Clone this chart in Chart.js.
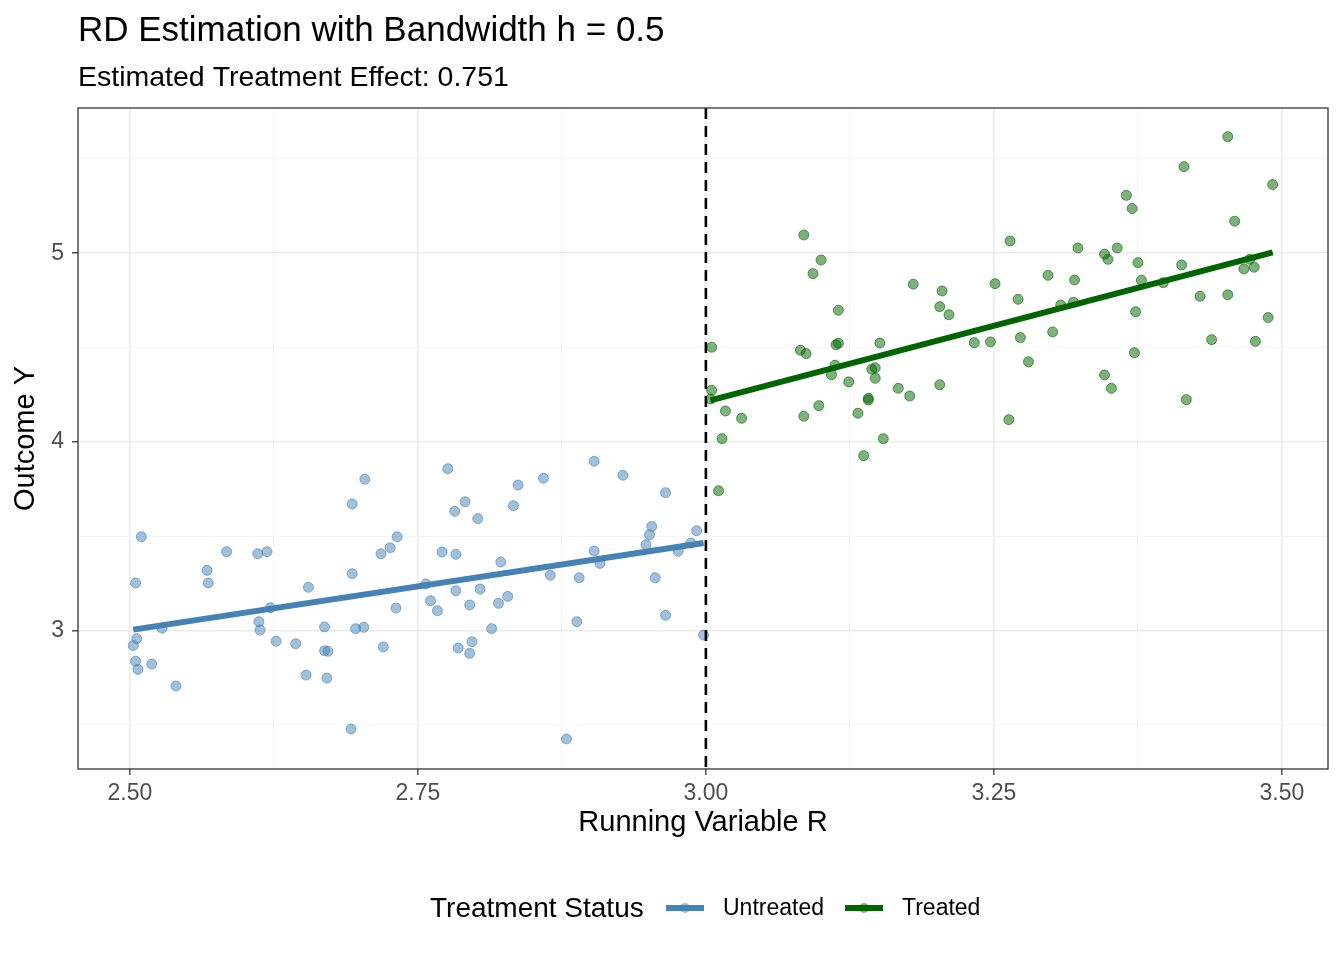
<!DOCTYPE html>
<html>
<head>
<meta charset="utf-8">
<script src="https://cdn.jsdelivr.net/npm/chart.js@4"></script>
<style>
  html, body { margin: 0; padding: 0; background: #fff; }
  #wrap { width: 1344px; height: 960px; }
</style>
</head>
<body>
<div id="wrap"><canvas id="rd"></canvas></div>
<script>
const TITLE = "RD Estimation with Bandwidth h = 0.5";
const SUBTITLE = "Estimated Treatment Effect: 0.751";
const CUTOFF = 3.0;

const untreatedR = [2.510, 2.505, 2.584, 2.567, 2.568, 2.611, 2.619, 2.622, 2.612, 2.613, 2.506, 2.503, 2.505, 2.507, 2.519, 2.528, 2.540, 2.627, 2.644, 2.655, 2.653, 2.671, 2.669, 2.672, 2.669, 2.693, 2.693, 2.704, 2.696, 2.703, 2.692, 2.720, 2.718, 2.726, 2.732, 2.731, 2.776, 2.782, 2.791, 2.802, 2.771, 2.783, 2.757, 2.761, 2.767, 2.783, 2.795, 2.804, 2.785, 2.797, 2.795, 2.814, 2.820, 2.828, 2.822, 2.833, 2.837, 2.859, 2.865, 2.879, 2.888, 2.890, 2.903, 2.903, 2.908, 2.928, 2.948, 2.951, 2.953, 2.956, 2.965, 2.965, 2.976, 2.987, 2.992, 2.998];
const untreatedY = [3.497, 3.252, 3.418, 3.319, 3.252, 3.407, 3.418, 3.121, 3.047, 3.003, 2.957, 2.921, 2.837, 2.794, 2.822, 3.012, 2.706, 2.943, 2.930, 3.229, 2.764, 2.748, 2.893, 2.890, 3.019, 3.301, 3.671, 3.802, 3.010, 3.017, 2.478, 2.913, 3.407, 3.439, 3.497, 3.119, 3.858, 3.632, 3.683, 3.593, 3.416, 3.404, 3.247, 3.158, 3.105, 3.211, 3.135, 3.220, 2.907, 2.941, 2.879, 3.010, 3.144, 3.181, 3.363, 3.662, 3.771, 3.807, 3.293, 2.425, 3.047, 3.280, 3.897, 3.422, 3.356, 3.823, 3.455, 3.508, 3.552, 3.280, 3.731, 3.081, 3.420, 3.464, 3.529, 2.976];

const treatedR = [3.085, 3.100, 3.093, 3.115, 3.005, 3.082, 3.087, 3.113, 3.115, 3.151, 3.112, 3.109, 3.124, 3.144, 3.147, 3.147, 3.005, 3.004, 3.017, 3.031, 3.014, 3.011, 3.085, 3.098, 3.132, 3.141, 3.141, 3.137, 3.154, 3.167, 3.177, 3.180, 3.205, 3.203, 3.211, 3.203, 3.233, 3.247, 3.251, 3.264, 3.263, 3.271, 3.273, 3.280, 3.297, 3.323, 3.320, 3.308, 3.319, 3.301, 3.346, 3.349, 3.357, 3.365, 3.370, 3.375, 3.378, 3.373, 3.372, 3.346, 3.352, 3.397, 3.413, 3.415, 3.453, 3.492, 3.459, 3.429, 3.453, 3.467, 3.476, 3.472, 3.439, 3.477, 3.488, 3.417];
const treatedY = [5.097, 4.964, 4.892, 4.698, 4.502, 4.486, 4.468, 4.515, 4.523, 4.524, 4.406, 4.356, 4.318, 4.385, 4.393, 4.337, 4.274, 4.227, 4.164, 4.125, 4.017, 3.741, 4.136, 4.192, 4.152, 4.231, 4.222, 3.927, 4.017, 4.284, 4.243, 4.836, 4.800, 4.717, 4.674, 4.303, 4.526, 4.530, 4.839, 5.065, 4.118, 4.756, 4.553, 4.425, 4.883, 5.028, 4.858, 4.726, 4.740, 4.583, 4.995, 4.968, 5.028, 5.307, 5.237, 4.950, 4.857, 4.690, 4.473, 4.355, 4.284, 4.844, 4.938, 5.459, 5.618, 5.364, 5.170, 4.772, 4.780, 4.917, 4.926, 4.968, 4.542, 4.533, 4.659, 4.224];

// fitted local linear lines (ends of each side)
const untreatedFitR = [2.503, 2.998];
const untreatedFitY = [3.005, 3.464];
const treatedFitR = [3.004, 3.492];
const treatedFitY = [4.220, 5.005];

const xMajor = [2.50, 2.75, 3.00, 3.25, 3.50];
const xMinor = [2.625, 2.875, 3.125, 3.375];
const yMajor = [3, 4, 5];
const yMinor = [2.5, 3.5, 4.5, 5.5];

const legendLabels = ["Untreated", "Treated"];
const LEGEND_TITLE = "Treatment Status";

const FONT = "'Liberation Sans', Arial, Helvetica, sans-serif";
const BLUE = "#4682B4";
const GREEN = "#006400";

const toXY = (xs, ys) => xs.map((x, i) => ({ x, y: ys[i] }));

function setTicks(major, minor) {
  return function (scale) {
    scale.ticks = major.concat(minor).sort((a, b) => a - b).map(v => ({ value: v }));
  };
}
const isMajor = (major, v) => major.some(m => Math.abs(m - v) < 1e-9);

const overlay = {
  id: "overlay",
  afterDatasetsDraw(chart) {
    const { ctx, chartArea: a, scales } = chart;
    const xc = scales.x.getPixelForValue(CUTOFF);
    ctx.save();
    ctx.strokeStyle = "#000";
    ctx.lineWidth = 2.6;
    ctx.setLineDash([11, 7]);
    ctx.beginPath();
    ctx.moveTo(xc, a.top);
    ctx.lineTo(xc, a.bottom);
    ctx.stroke();
    ctx.setLineDash([]);
    ctx.strokeStyle = "#333333";
    ctx.lineWidth = 1.3;
    ctx.strokeRect(a.left, a.top, a.right - a.left, a.bottom - a.top);
    ctx.restore();
  },
  afterDraw(chart) {
    const { ctx } = chart;
    ctx.save();
    ctx.fillStyle = "#000";
    ctx.textBaseline = "alphabetic";
    ctx.textAlign = "left";
    ctx.font = "35px " + FONT;
    ctx.fillText(TITLE, 78, 41);
    ctx.font = "28.5px " + FONT;
    ctx.fillText(SUBTITLE, 78, 86);

    // legend
    const cy = 908;
    ctx.textBaseline = "middle";
    ctx.font = "28px " + FONT;
    ctx.fillText(LEGEND_TITLE, 430, cy + 1);
    const keys = [
      { x: 666, color: BLUE, fill: "rgba(70,130,180,0.5)", label: legendLabels[0] },
      { x: 845, color: GREEN, fill: "rgba(0,100,0,0.5)", label: legendLabels[1] }
    ];
    ctx.font = "23px " + FONT;
    keys.forEach(k => {
      ctx.strokeStyle = k.color;
      ctx.lineWidth = 6;
      ctx.beginPath();
      ctx.moveTo(k.x, cy);
      ctx.lineTo(k.x + 38, cy);
      ctx.stroke();
      ctx.fillStyle = k.fill;
      ctx.beginPath();
      ctx.arc(k.x + 19, cy, 5, 0, Math.PI * 2);
      ctx.fill();
      ctx.fillStyle = "#000";
      ctx.fillText(k.label, k.x + 57, cy + 1);
    });
    ctx.restore();
  }
};

new Chart(document.getElementById("rd").getContext("2d"), {
  type: "scatter",
  data: {
    datasets: [
      {
        label: "Untreated points",
        data: toXY(untreatedR, untreatedY),
        backgroundColor: "rgba(70,130,180,0.5)",
        borderColor: "rgba(70,130,180,0.6)",
        borderWidth: 1,
        pointRadius: 5,
      },
      {
        label: "Treated points",
        data: toXY(treatedR, treatedY),
        backgroundColor: "rgba(0,100,0,0.5)",
        borderColor: "rgba(0,100,0,0.6)",
        borderWidth: 1,
        pointRadius: 5,
      },
      {
        type: "line",
        label: "Untreated fit",
        data: toXY(untreatedFitR, untreatedFitY),
        borderColor: BLUE,
        borderWidth: 6,
        pointRadius: 0,
        fill: false,
      },
      {
        type: "line",
        label: "Treated fit",
        data: toXY(treatedFitR, treatedFitY),
        borderColor: GREEN,
        borderWidth: 6,
        pointRadius: 0,
        fill: false,
      },
    ],
  },
  options: {
    responsive: true,
    maintainAspectRatio: false,
    animation: false,
    layout: { padding: { top: 108, right: 16, bottom: 120, left: 0 } },
    plugins: {
      legend: { display: false },
      tooltip: { enabled: false },
    },
    scales: {
      x: {
        type: "linear",
        min: 2.455,
        max: 3.54,
        afterBuildTicks: setTicks(xMajor, xMinor),
        afterFit(scale) { scale.height = 71; },
        border: { display: false },
        grid: {
          color: c => isMajor(xMajor, c.tick.value) ? "#ebebeb" : "#f4f4f4",
          lineWidth: c => isMajor(xMajor, c.tick.value) ? 1.6 : 0.9,
          tickColor: c => isMajor(xMajor, c.tick.value) ? "#333333" : "rgba(0,0,0,0)",
          tickLength: 6,
          tickWidth: 1.3,
        },
        ticks: {
          autoSkip: false,
          maxRotation: 0,
          padding: 5,
          color: "#4d4d4d",
          font: { family: FONT, size: 23 },
          callback: v => isMajor(xMajor, v) ? v.toFixed(2) : "",
        },
        title: {
          display: true,
          text: "Running Variable R",
          color: "#000",
          font: { family: FONT, size: 29 },
          padding: { top: 0, bottom: 0 },
        },
      },
      y: {
        type: "linear",
        min: 2.266,
        max: 5.77,
        afterBuildTicks: setTicks(yMajor, yMinor),
        afterFit(scale) { scale.width = 78; },
        border: { display: false },
        grid: {
          color: c => isMajor(yMajor, c.tick.value) ? "#ebebeb" : "#f4f4f4",
          lineWidth: c => isMajor(yMajor, c.tick.value) ? 1.6 : 0.9,
          tickColor: c => isMajor(yMajor, c.tick.value) ? "#333333" : "rgba(0,0,0,0)",
          tickLength: 6,
          tickWidth: 1.3,
        },
        ticks: {
          autoSkip: false,
          padding: 8,
          color: "#4d4d4d",
          font: { family: FONT, size: 23 },
          callback: v => isMajor(yMajor, v) ? String(v) : "",
        },
        title: {
          display: true,
          text: "Outcome Y",
          color: "#000",
          font: { family: FONT, size: 29 },
          padding: { top: 9, bottom: 4 },
        },
      },
    },
  },
  plugins: [overlay],
});
</script>
</body>
</html>
